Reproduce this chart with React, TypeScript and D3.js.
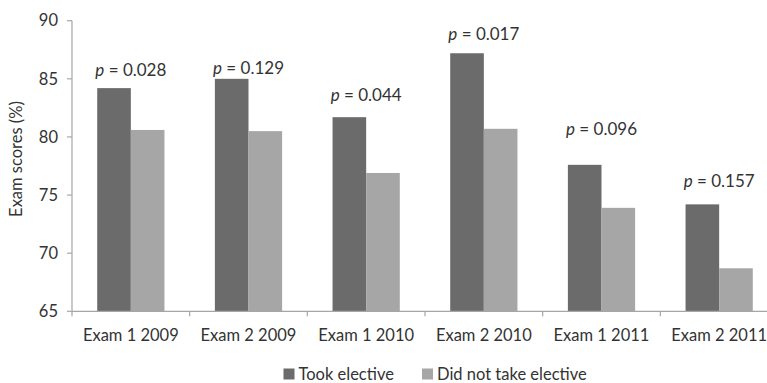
import React from "react";
import * as d3 from "d3";

const categories = ["Exam 1 2009", "Exam 2 2009", "Exam 1 2010", "Exam 2 2010", "Exam 1 2011", "Exam 2 2011"];
const tookElective = [84.2, 85.0, 81.7, 87.2, 77.6, 74.2];
const didNotTake = [80.6, 80.5, 76.9, 80.7, 73.9, 68.7];
const pLabels = ["0.028", "0.129", "0.044", "0.017", "0.096", "0.157"];
const pLabelY = [85.25, 85.4, 83.1, 88.35, 80.15, 75.7];
const yTicks = [65, 70, 75, 80, 85, 90];
const seriesNames = ["Took elective", "Did not take elective"];

const W = 767;
const H = 383;
const DARK = "#6b6b6b";
const LIGHT = "#a6a6a6";
const AXIS = "#a6a6a6";
const TEXT = "#333333";
const FONT = "Lato, 'Noto Sans', sans-serif";

export default function App() {
  const x = d3.scaleBand<string>().domain(categories).range([72, 778]).paddingInner(0).paddingOuter(0);
  const y = d3.scaleLinear().domain([65, 90]).range([311.3, 20.7]);
  const bw = x.bandwidth();
  const barW = bw / 3.5;
  const gap = (bw - 2 * barW) / 2;

  return (
    <svg width={W} height={H} style={{ position: "absolute", left: 0, top: 0, fontFamily: FONT }}>
      <rect x={0} y={0} width={W} height={H} fill="#fff" />
      {categories.map((c, i) => {
        const x0 = (x(c) as number) + gap;
        return (
          <g key={c}>
            <rect x={x0} y={y(tookElective[i])} width={barW} height={y(65) - y(tookElective[i])} fill={DARK} />
            <rect x={x0 + barW} y={y(didNotTake[i])} width={barW} height={y(65) - y(didNotTake[i])} fill={LIGHT} />
            <text x={(x(c) as number) + bw / 2} y={y(pLabelY[i])} textAnchor="middle" fontSize={17} fill={TEXT}>
              <tspan fontStyle="italic">p</tspan> = {pLabels[i]}
            </text>
          </g>
        );
      })}
      <line x1={72} x2={72} y1={y(90)} y2={y(65)} stroke={AXIS} strokeWidth={1.2} />
      {yTicks.map((t) => (
        <g key={t}>
          <line x1={67} x2={72} y1={y(t)} y2={y(t)} stroke={AXIS} strokeWidth={1.2} />
          <text x={58} y={y(t)} dy="0.35em" textAnchor="end" fontSize={16.5} fill={TEXT}>
            {t}
          </text>
        </g>
      ))}
      <line x1={72} x2={778} y1={y(65)} y2={y(65)} stroke={AXIS} strokeWidth={1.2} />
      {categories.map((c) => (
        <g key={"xt" + c}>
          <line x1={x(c) as number} x2={x(c) as number} y1={y(65)} y2={y(65) + 5} stroke={AXIS} strokeWidth={1.2} />
          <text x={(x(c) as number) + bw / 2} y={340.7} textAnchor="middle" fontSize={16.5} fill={TEXT}>
            {c}
          </text>
        </g>
      ))}
      <text transform={`translate(22,159) rotate(-90)`} textAnchor="middle" fontSize={16.5} fill={TEXT}>
        Exam scores (%)
      </text>
      <rect x={283.5} y={368.5} width={11} height={11} fill={DARK} />
      <text x={298.5} y={379.5} fontSize={16.5} fill={TEXT}>{seriesNames[0]}</text>
      <rect x={422} y={368.5} width={11} height={11} fill={LIGHT} />
      <text x={437} y={379.5} fontSize={16.5} fill={TEXT}>{seriesNames[1]}</text>
    </svg>
  );
}
